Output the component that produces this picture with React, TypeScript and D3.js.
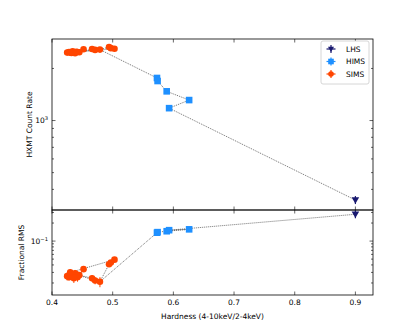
import React, { useEffect, useRef } from 'react';
import * as d3 from 'd3';

// hardness ratio, HXMT count rate, fractional rms (time order)
const simsHard = [0.425, 0.428, 0.432, 0.436, 0.440, 0.438, 0.434, 0.442, 0.452, 0.445, 0.466, 0.471, 0.430, 0.503, 0.497, 0.494, 0.479];
const simsRate = [2470, 2490, 2460, 2480, 2500, 2450, 2510, 2490, 2580, 2480, 2590, 2560, 2470, 2600, 2620, 2660, 2570];
const simsRms = [0.026, 0.025, 0.027, 0.024, 0.028, 0.029, 0.026, 0.025, 0.034, 0.027, 0.024, 0.022, 0.030, 0.049, 0.044, 0.041, 0.021];
const simsRmsErr = [0.004, 0.003, 0.004, 0.004, 0.004, 0.004, 0.003, 0.004, 0.003, 0.003, 0.003, 0.003, 0.004, 0.003, 0.003, 0.003, 0.004];

const himsHard = [0.573, 0.574, 0.589, 0.626, 0.593];
const himsRate = [1762, 1692, 1475, 1313, 1179];
const himsRms = [0.138, 0.141, 0.146, 0.157, 0.152];

const lhsHard = [0.9];
const lhsRate = [347];
const lhsRms = [0.28];

const xTicks = [0.4, 0.5, 0.6, 0.7, 0.8, 0.9];
const legendNames = ['LHS', 'HIMS', 'SIMS'];

const COLORS = { LHS: '#191970', HIMS: '#1e90ff', SIMS: '#ff4500' };
const FONT = 'DejaVu Sans, sans-serif';

export default function App() {
  const ref = useRef<SVGSVGElement>(null);

  useEffect(() => {
    const svg = d3.select(ref.current);
    svg.selectAll('*').remove();

    const L = 52, R = 373, T0 = 39, T1 = 210, B0 = 210, B1 = 295;
    const x = d3.scaleLinear().domain([0.4, 0.929]).range([L, R]);
    const yTop = d3.scaleLog().domain([304, 2960]).range([T1, T0]);
    const yBot = d3.scaleLog().domain([0.0126, 0.33]).range([B1, B0]);

    // all points in time order for the dotted track
    const track = [
      ...simsHard.map((h, i) => ({ h, r: simsRate[i], f: simsRms[i] })),
      ...himsHard.map((h, i) => ({ h, r: himsRate[i], f: himsRms[i] })),
      ...lhsHard.map((h, i) => ({ h, r: lhsRate[i], f: lhsRms[i] })),
    ];

    const drawPanel = (y: any, y0: number, y1: number, key: 'r' | 'f', majors: number[]) => {
      const g = svg.append('g');
      // minor/major ticks on left/right
      const ticks = y.ticks().filter((v: number) => y(v) > y0 + 0.5 && y(v) < y1 - 0.5);
      ticks.forEach((v: number) => {
        const major = majors.includes(v);
        const len = major ? 3.5 : 2;
        g.append('line').attr('x1', L).attr('x2', L + len).attr('y1', y(v)).attr('y2', y(v)).attr('stroke', '#000').attr('stroke-width', 0.6);
        g.append('line').attr('x1', R).attr('x2', R - len).attr('y1', y(v)).attr('y2', y(v)).attr('stroke', '#000').attr('stroke-width', 0.6);
      });
      xTicks.forEach(v => {
        g.append('line').attr('x1', x(v)).attr('x2', x(v)).attr('y1', y0).attr('y2', y0 + 3.5).attr('stroke', '#000').attr('stroke-width', 0.6);
        g.append('line').attr('x1', x(v)).attr('x2', x(v)).attr('y1', y1).attr('y2', y1 - 3.5).attr('stroke', '#000').attr('stroke-width', 0.6);
      });

      const line = d3.line<any>().x(d => x(d.h)).y(d => y(d[key]));
      g.append('path').attr('d', line(track)).attr('fill', 'none')
        .attr('stroke', '#333').attr('stroke-width', 0.7).attr('stroke-dasharray', '1,1');

      // SIMS
      if (key === 'f') {
        simsHard.forEach((h, i) => {
          g.append('line').attr('x1', x(h)).attr('x2', x(h))
            .attr('y1', y(simsRms[i] - simsRmsErr[i])).attr('y2', y(simsRms[i] + simsRmsErr[i]))
            .attr('stroke', COLORS.SIMS).attr('stroke-width', 1);
        });
      }
      g.selectAll('circle.sims').data(simsHard).enter().append('circle')
        .attr('cx', d => x(d)).attr('cy', (d, i) => y(key === 'r' ? simsRate[i] : simsRms[i]))
        .attr('r', 3.3).attr('fill', COLORS.SIMS);

      // HIMS
      g.selectAll('rect.hims').data(himsHard).enter().append('rect')
        .attr('x', d => x(d) - 3.3).attr('y', (d, i) => y(key === 'r' ? himsRate[i] : himsRms[i]) - 3.3)
        .attr('width', 6.6).attr('height', 6.6).attr('fill', COLORS.HIMS);

      // LHS
      lhsHard.forEach((h, i) => {
        const cy = y(key === 'r' ? lhsRate[i] : lhsRms[i]);
        const cx = x(h);
        g.append('line').attr('x1', cx).attr('x2', cx).attr('y1', cy - 4).attr('y2', cy + 4).attr('stroke', COLORS.LHS).attr('stroke-width', 1.2);
        g.append('path').attr('d', `M${cx - 3.8},${cy - 2.8}L${cx + 3.8},${cy - 2.8}L${cx},${cy + 3.8}Z`).attr('fill', COLORS.LHS);
      });

      g.append('rect').attr('x', L).attr('y', y0).attr('width', R - L).attr('height', y1 - y0)
        .attr('fill', 'none').attr('stroke', '#000').attr('stroke-width', 0.8);
    };

    drawPanel(yTop, T0, T1, 'r', [1000]);
    drawPanel(yBot, B0, B1, 'f', [0.1]);

    // x tick labels
    xTicks.forEach(v => {
      svg.append('text').attr('x', x(v)).attr('y', B1 + 9.5).attr('text-anchor', 'middle')
        .attr('font-family', FONT).attr('font-size', 7.5).text(d3.format('.1f')(v));
    });
    svg.append('text').attr('x', (L + R) / 2).attr('y', 319).attr('text-anchor', 'middle')
      .attr('font-family', FONT).attr('font-size', 7.5).text('Hardness (4-10keV/2-4keV)');

    // y tick labels with superscripts
    const sup = (yy: number, exp: string) => {
      const t = svg.append('text').attr('x', L - 4).attr('y', yy + 2.8).attr('text-anchor', 'end')
        .attr('font-family', FONT).attr('font-size', 7.5);
      t.append('tspan').text('10');
      t.append('tspan').attr('font-size', 5.2).attr('dy', -3.2).text(exp);
    };
    sup(yTop(1000), '3');
    sup(yBot(0.1), '\u22121');

    svg.append('text').attr('transform', `translate(32,${(T0 + T1) / 2}) rotate(-90)`).attr('text-anchor', 'middle')
      .attr('font-family', FONT).attr('font-size', 7.5).text('HXMT Count Rate');
    svg.append('text').attr('transform', `translate(24,${(B0 + B1) / 2}) rotate(-90)`).attr('text-anchor', 'middle')
      .attr('font-family', FONT).attr('font-size', 7.5).text('Fractional RMS');

    // legend
    const lg = svg.append('g');
    lg.append('rect').attr('x', 321).attr('y', 41).attr('width', 48).attr('height', 43).attr('rx', 2)
      .attr('fill', '#fff').attr('stroke', '#ccc').attr('stroke-width', 0.8);
    legendNames.forEach((name, i) => {
      const cy = 49 + i * 12.5;
      const cx = 331;
      const c = (COLORS as any)[name];
      lg.append('line').attr('x1', cx).attr('x2', cx).attr('y1', cy - 4).attr('y2', cy + 4).attr('stroke', c).attr('stroke-width', 1.2);
      lg.append('line').attr('x1', cx - 4.5).attr('x2', cx + 4.5).attr('y1', cy).attr('y2', cy).attr('stroke', c).attr('stroke-width', 1.2);
      if (name === 'LHS') {
        lg.append('path').attr('d', `M${cx - 3},${cy - 2.2}L${cx + 3},${cy - 2.2}L${cx},${cy + 3}Z`).attr('fill', c);
      } else if (name === 'HIMS') {
        lg.append('rect').attr('x', cx - 2.8).attr('y', cy - 2.8).attr('width', 5.6).attr('height', 5.6).attr('fill', c);
      } else {
        lg.append('circle').attr('cx', cx).attr('cy', cy).attr('r', 2.8).attr('fill', c);
      }
      lg.append('text').attr('x', 346).attr('y', cy + 2.7).attr('font-family', FONT).attr('font-size', 7.5).text(name);
    });
  }, []);

  return <svg ref={ref} width={415} height={332} style={{ position: 'absolute', left: 0, top: 0 }} />;
}
